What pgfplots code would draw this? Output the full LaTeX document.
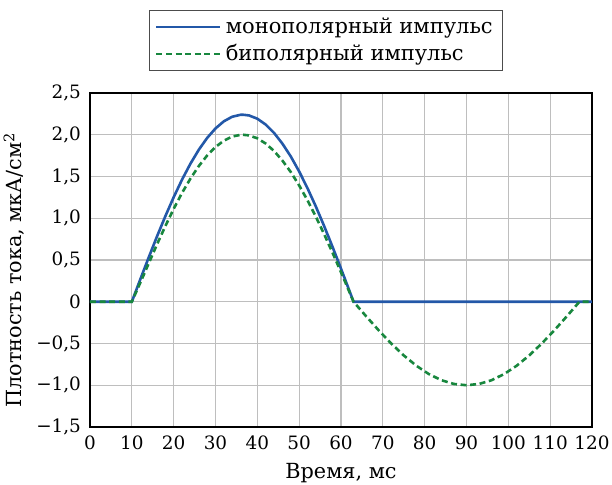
\documentclass[border=0pt]{standalone}
\usepackage{fontspec}
\setmainfont{DejaVu Serif}
\usepackage{pgfplots}
\pgfplotsset{compat=1.18}
\definecolor{monoblue}{RGB}{35,88,168}
\definecolor{bigreen}{RGB}{24,135,62}
\definecolor{gridgray}{RGB}{190,190,190}
\begin{document}
\begin{tikzpicture}
\begin{axis}[
  scale only axis,
  width=251pt, height=167pt,
  xmin=0, xmax=120, ymin=-1.5, ymax=2.5,
  xtick={0,10,...,120},
  ytick={-1.5,-1,-0.5,0,0.5,1,1.5,2,2.5},
  yticklabels={{−1,5},{−1,0},{−0,5},0,{0,5},{1,0},{1,5},{2,0},{2,5}},
  /pgf/number format/assume math mode=true,
  major tick length=0pt,
  grid=major,
  major grid style={gridgray, line width=0.6pt},
  axis line style={black, line width=1pt},
  tick label style={font=\fontsize{9.2}{11}\selectfont},
  label style={font=\fontsize{10.4}{12}\selectfont},
  xticklabel style={yshift=-1pt},
  yticklabel style={xshift=-1pt},
  xlabel={Время, мс},
  ylabel={Плотность тока, мкА/см\textsuperscript{2}},
  xlabel style={yshift=0pt},
  ylabel style={yshift=-1pt, xshift=-5pt},
  legend style={
    at={(0.47,1)}, anchor=south, yshift=11pt,
    font=\fontsize{10.5}{12}\selectfont,
    draw=black!70, line width=0.5pt,
    row sep=0pt, inner xsep=3pt, inner ysep=1.5pt,
    cells={anchor=west},
  },
  legend image code/.code={\draw[#1] (0pt,0pt) -- (32pt,0pt);},
]
\addplot[monoblue, line width=1.3pt] coordinates {
(0,0) (10,0) (12,0.2649) (14,0.5262) (16,0.7800) (18,1.0228) (20,1.2513)
(22,1.4623) (24,1.6527) (26,1.8198) (28,1.9613) (30,2.0756) (32,2.1609)
(34,2.2158) (36,2.2391) (36.5,2.24) (38,2.2313) (40,2.1921) (42,2.1220)
(44,2.0218) (46,1.8930) (48,1.7396) (50,1.5602) (52,1.3592) (54,1.1393)
(56,0.9029) (58,0.6543) (60,0.3963) (62,0.1327) (63,0) (120,0)
};
\addlegendentry{монополярный импульс}
\addplot[bigreen, line width=1.3pt, dash pattern=on 3pt off 1.8pt] coordinates {
(0,0) (10,0) (12,0.2250) (14,0.4550) (16,0.6850) (18,0.9050) (20,1.1120)
(22,1.3030) (24,1.4740) (26,1.6240) (28,1.7512) (30,1.8532) (32,1.9294)
(34,1.9784) (36,1.9992) (36.5,2.0) (38,1.9922) (40,1.9572) (42,1.8946)
(44,1.8052) (46,1.6902) (48,1.5532) (50,1.3930) (52,1.2136) (54,1.0172)
(56,0.8062) (58,0.5842) (60,0.3538) (62,0.1185) (63,0)
(66,-0.1736) (69,-0.3420) (72,-0.5) (75,-0.6428) (78,-0.7660) (81,-0.8660)
(84,-0.9397) (87,-0.9848) (90,-1) (93,-0.9848) (96,-0.9397) (99,-0.8660)
(102,-0.7660) (105,-0.6428) (108,-0.5) (111,-0.3420) (114,-0.1736) (117,0)
(120,0)
};
\addlegendentry{биполярный импульс}
\end{axis}
\pgfresetboundingbox
\useasboundingbox (current axis.south west) ++(-45pt,-29pt) rectangle ++(306pt,242.5pt);
\end{tikzpicture}
\end{document}
